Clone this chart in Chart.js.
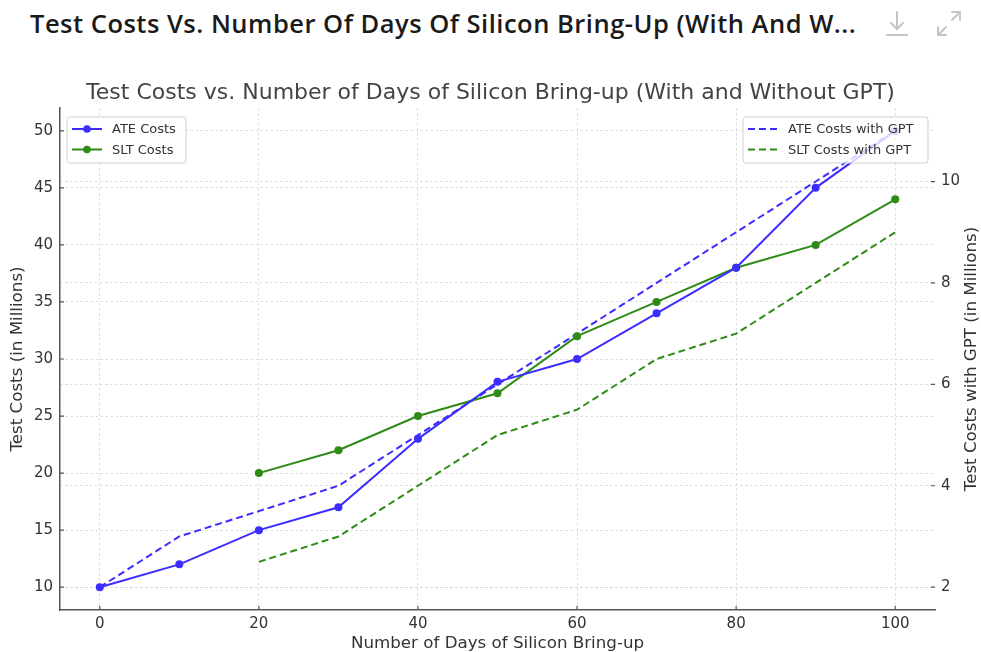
<!DOCTYPE html>
<html>
<head>
<meta charset="utf-8">
<title>Test Costs vs. Number of Days of Silicon Bring-up</title>
<script src="https://cdn.jsdelivr.net/npm/chart.js@4.4.1/dist/chart.umd.min.js"></script>
<style>
    html, body { margin: 0; padding: 0; background: #fff; overflow: hidden; }
    body { width: 981px; height: 652px; position: relative; }
    .header {
        position: absolute; left: 30px; top: 6px;
        font-family: "Open Sans", sans-serif; font-weight: 600; font-size: 25.5px;
        color: #1a1a1a; white-space: nowrap; letter-spacing: 0.5px;
    }
    .icons { position: absolute; left: 880px; top: 8px; }
    #wrap { position: absolute; left: 0; top: 60px; width: 981px; height: 600px; }
</style>
</head>
<body>
<div class="header">Test Costs Vs. Number Of Days Of Silicon Bring-Up (With And W...</div>
<svg class="icons" width="95" height="34" viewBox="0 0 95 34">
    <g fill="none" stroke="#c4c4c4" stroke-width="2" stroke-linecap="round">
        <line x1="17" y1="4" x2="17" y2="21"/>
        <polyline points="11,15 17,21 23,15"/>
        <line x1="7" y1="27" x2="27" y2="27"/>
        <polyline points="72,4 80,4 80,12"/>
        <line x1="80" y1="4" x2="72" y2="12"/>
        <polyline points="58,19 58,27 66,27"/>
        <line x1="58" y1="27" x2="66" y2="19"/>
    </g>
</svg>
<div id="wrap"><canvas id="costChart"></canvas></div>
<script>
document.addEventListener("DOMContentLoaded", function () {
    // data
    const days = [0, 10, 20, 30, 40, 50, 60, 70, 80, 90, 100];
    const ateCosts = [10, 12, 15, 17, 23, 28, 30, 34, 38, 45, 50];
    const sltCosts = [null, null, 20, 22, 25, 27, 32, 35, 38, 40, 44];
    const ateCostsGpt = [2, 3, 3.5, 4, 5, 6, 7, 8, 9, 10, 11];
    const sltCostsGpt = [null, null, 2.5, 3, 4, 5, 5.5, 6.5, 7, 8, 9];

    const xTicks = [0, 20, 40, 60, 80, 100];
    const leftTicks = [10, 15, 20, 25, 30, 35, 40, 45, 50];
    const rightTicks = [2, 4, 6, 8, 10];

    const BLUE = "#3b2cff";
    const GREEN = "#2e8b16";
    const FONT = "'DejaVu Sans', sans-serif";

    function toPoints(values) {
        const pts = [];
        values.forEach((v, i) => {
            if (v !== null) pts.push({ x: days[i], y: v });
        });
        return pts;
    }

    function fixTicks(list) {
        return function (axis) {
            axis.ticks = list.map(v => ({ value: v }));
        };
    }

    /** ========== legends, inward ticks, right axis title ========== */
    function drawLegend(ctx, box, rows) {
        ctx.save();
        ctx.beginPath();
        ctx.roundRect(box.x, box.y, box.w, box.h, 3);
        ctx.fillStyle = "rgba(255,255,255,0.8)";
        ctx.fill();
        ctx.strokeStyle = "#d0d0d0";
        ctx.lineWidth = 1;
        ctx.stroke();
        ctx.font = "13px " + FONT;
        ctx.textBaseline = "middle";
        rows.forEach((r, i) => {
            const y = box.y + 12 + i * 20.5;
            const x0 = box.x + 5;
            ctx.strokeStyle = r.color;
            ctx.lineWidth = 2;
            ctx.setLineDash(r.dash || []);
            ctx.beginPath();
            ctx.moveTo(x0, y);
            ctx.lineTo(x0 + 30, y);
            ctx.stroke();
            ctx.setLineDash([]);
            if (r.marker) {
                ctx.fillStyle = r.color;
                ctx.beginPath();
                ctx.arc(x0 + 15, y, 3.8, 0, Math.PI * 2);
                ctx.fill();
            }
            ctx.fillStyle = "#333";
            ctx.fillText(r.label, x0 + 40, y + 1);
        });
        ctx.restore();
    }

    const overlay = {
        id: "overlay",
        afterDraw(chart) {
            const ctx = chart.ctx;
            const a = chart.chartArea;
            const sx = chart.scales.x, sy = chart.scales.y, sy2 = chart.scales.y2;
            ctx.save();
            ctx.strokeStyle = "#555";
            ctx.lineWidth = 1.2;
            ctx.beginPath();
            xTicks.forEach(v => {
                const px = sx.getPixelForValue(v);
                ctx.moveTo(px, a.bottom);
                ctx.lineTo(px, a.bottom - 4);
            });
            leftTicks.forEach(v => {
                const py = sy.getPixelForValue(v);
                ctx.moveTo(a.left, py);
                ctx.lineTo(a.left + 4, py);
            });
            rightTicks.forEach(v => {
                const py = sy2.getPixelForValue(v);
                ctx.moveTo(a.right - 4, py);
                ctx.lineTo(a.right, py);
            });
            ctx.stroke();

            // right axis title reads bottom-to-top like the left one
            ctx.translate(972, (a.top + a.bottom) / 2);
            ctx.rotate(-Math.PI / 2);
            ctx.font = "16.7px " + FONT;
            ctx.fillStyle = "#333";
            ctx.textAlign = "center";
            ctx.textBaseline = "middle";
            ctx.fillText("Test Costs with GPT (in Millions)", 0, 0);
            ctx.restore();

            const ds = chart.data.datasets;
            drawLegend(ctx, { x: 67, y: 57, w: 119, h: 46 }, [
                { label: ds[0].label, color: ds[0].borderColor, marker: true },
                { label: ds[1].label, color: ds[1].borderColor, marker: true }
            ]);
            drawLegend(ctx, { x: 743, y: 57, w: 185, h: 46 }, [
                { label: ds[2].label, color: ds[2].borderColor, dash: ds[2].borderDash },
                { label: ds[3].label, color: ds[3].borderColor, dash: ds[3].borderDash }
            ]);
        }
    };

    const gridStyle = { color: "#d4d4d4", lineWidth: 0.8, drawTicks: false };
    const GRID_DASH = [2.5, 2.5];

    new Chart(document.getElementById("costChart").getContext("2d"), {
        type: "line",
        data: {
            datasets: [
                {
                    label: "ATE Costs", data: toPoints(ateCosts), yAxisID: "y",
                    borderColor: BLUE, backgroundColor: BLUE, borderWidth: 2,
                    pointRadius: 4, pointBorderWidth: 0, pointHoverRadius: 4, tension: 0
                },
                {
                    label: "SLT Costs", data: toPoints(sltCosts), yAxisID: "y",
                    borderColor: GREEN, backgroundColor: GREEN, borderWidth: 2,
                    pointRadius: 4, pointBorderWidth: 0, pointHoverRadius: 4, tension: 0
                },
                {
                    label: "ATE Costs with GPT", data: toPoints(ateCostsGpt), yAxisID: "y2",
                    borderColor: BLUE, backgroundColor: BLUE, borderWidth: 2,
                    borderDash: [7, 4], pointRadius: 0, tension: 0
                },
                {
                    label: "SLT Costs with GPT", data: toPoints(sltCostsGpt), yAxisID: "y2",
                    borderColor: GREEN, backgroundColor: GREEN, borderWidth: 2,
                    borderDash: [7, 4], pointRadius: 0, tension: 0
                }
            ]
        },
        options: {
            responsive: true,
            maintainAspectRatio: false,
            animation: false,
            layout: { padding: 0 },
            plugins: {
                legend: { display: false },
                tooltip: { enabled: false },
                title: {
                    display: true,
                    text: "Test Costs vs. Number of Days of Silicon Bring-up (With and Without GPT)",
                    color: "#444",
                    font: { family: FONT, size: 22, weight: "normal" },
                    padding: { top: 20.5, bottom: 1.1 }
                }
            },
            scales: {
                x: {
                    type: "linear", min: -5, max: 105,
                    afterBuildTicks: fixTicks(xTicks),
                    afterFit(axis) { axis.height = 50; },
                    grid: Object.assign({}, gridStyle),
                    border: { display: true, color: "#555", width: 1.5, dash: GRID_DASH },
                    ticks: { color: "#333", padding: 5, font: { family: FONT, size: 15 } },
                    title: {
                        display: true, text: "Number of Days of Silicon Bring-up",
                        color: "#333", font: { family: FONT, size: 16.7 },
                        padding: { top: 6, bottom: 6 }
                    }
                },
                y: {
                    position: "left", min: 8, max: 52,
                    afterBuildTicks: fixTicks(leftTicks),
                    afterFit(axis) { axis.width = 60; },
                    grid: Object.assign({}, gridStyle),
                    border: { display: true, color: "#555", width: 1.5, dash: GRID_DASH },
                    ticks: { color: "#333", padding: 7, font: { family: FONT, size: 15 } },
                    title: {
                        display: true, text: "Test Costs (in Millions)",
                        color: "#333", font: { family: FONT, size: 16.7 },
                        padding: { top: 8, bottom: 8 }
                    }
                },
                y2: {
                    position: "right", min: 1.55, max: 11.45,
                    afterBuildTicks: fixTicks(rightTicks),
                    afterFit(axis) { axis.width = 46; },
                    grid: Object.assign({}, gridStyle),
                    border: { display: false, dash: GRID_DASH },
                    ticks: { color: "#333", padding: 6, font: { family: FONT, size: 15 } }
                }
            }
        },
        plugins: [overlay]
    });
});
</script>
</body>
</html>
